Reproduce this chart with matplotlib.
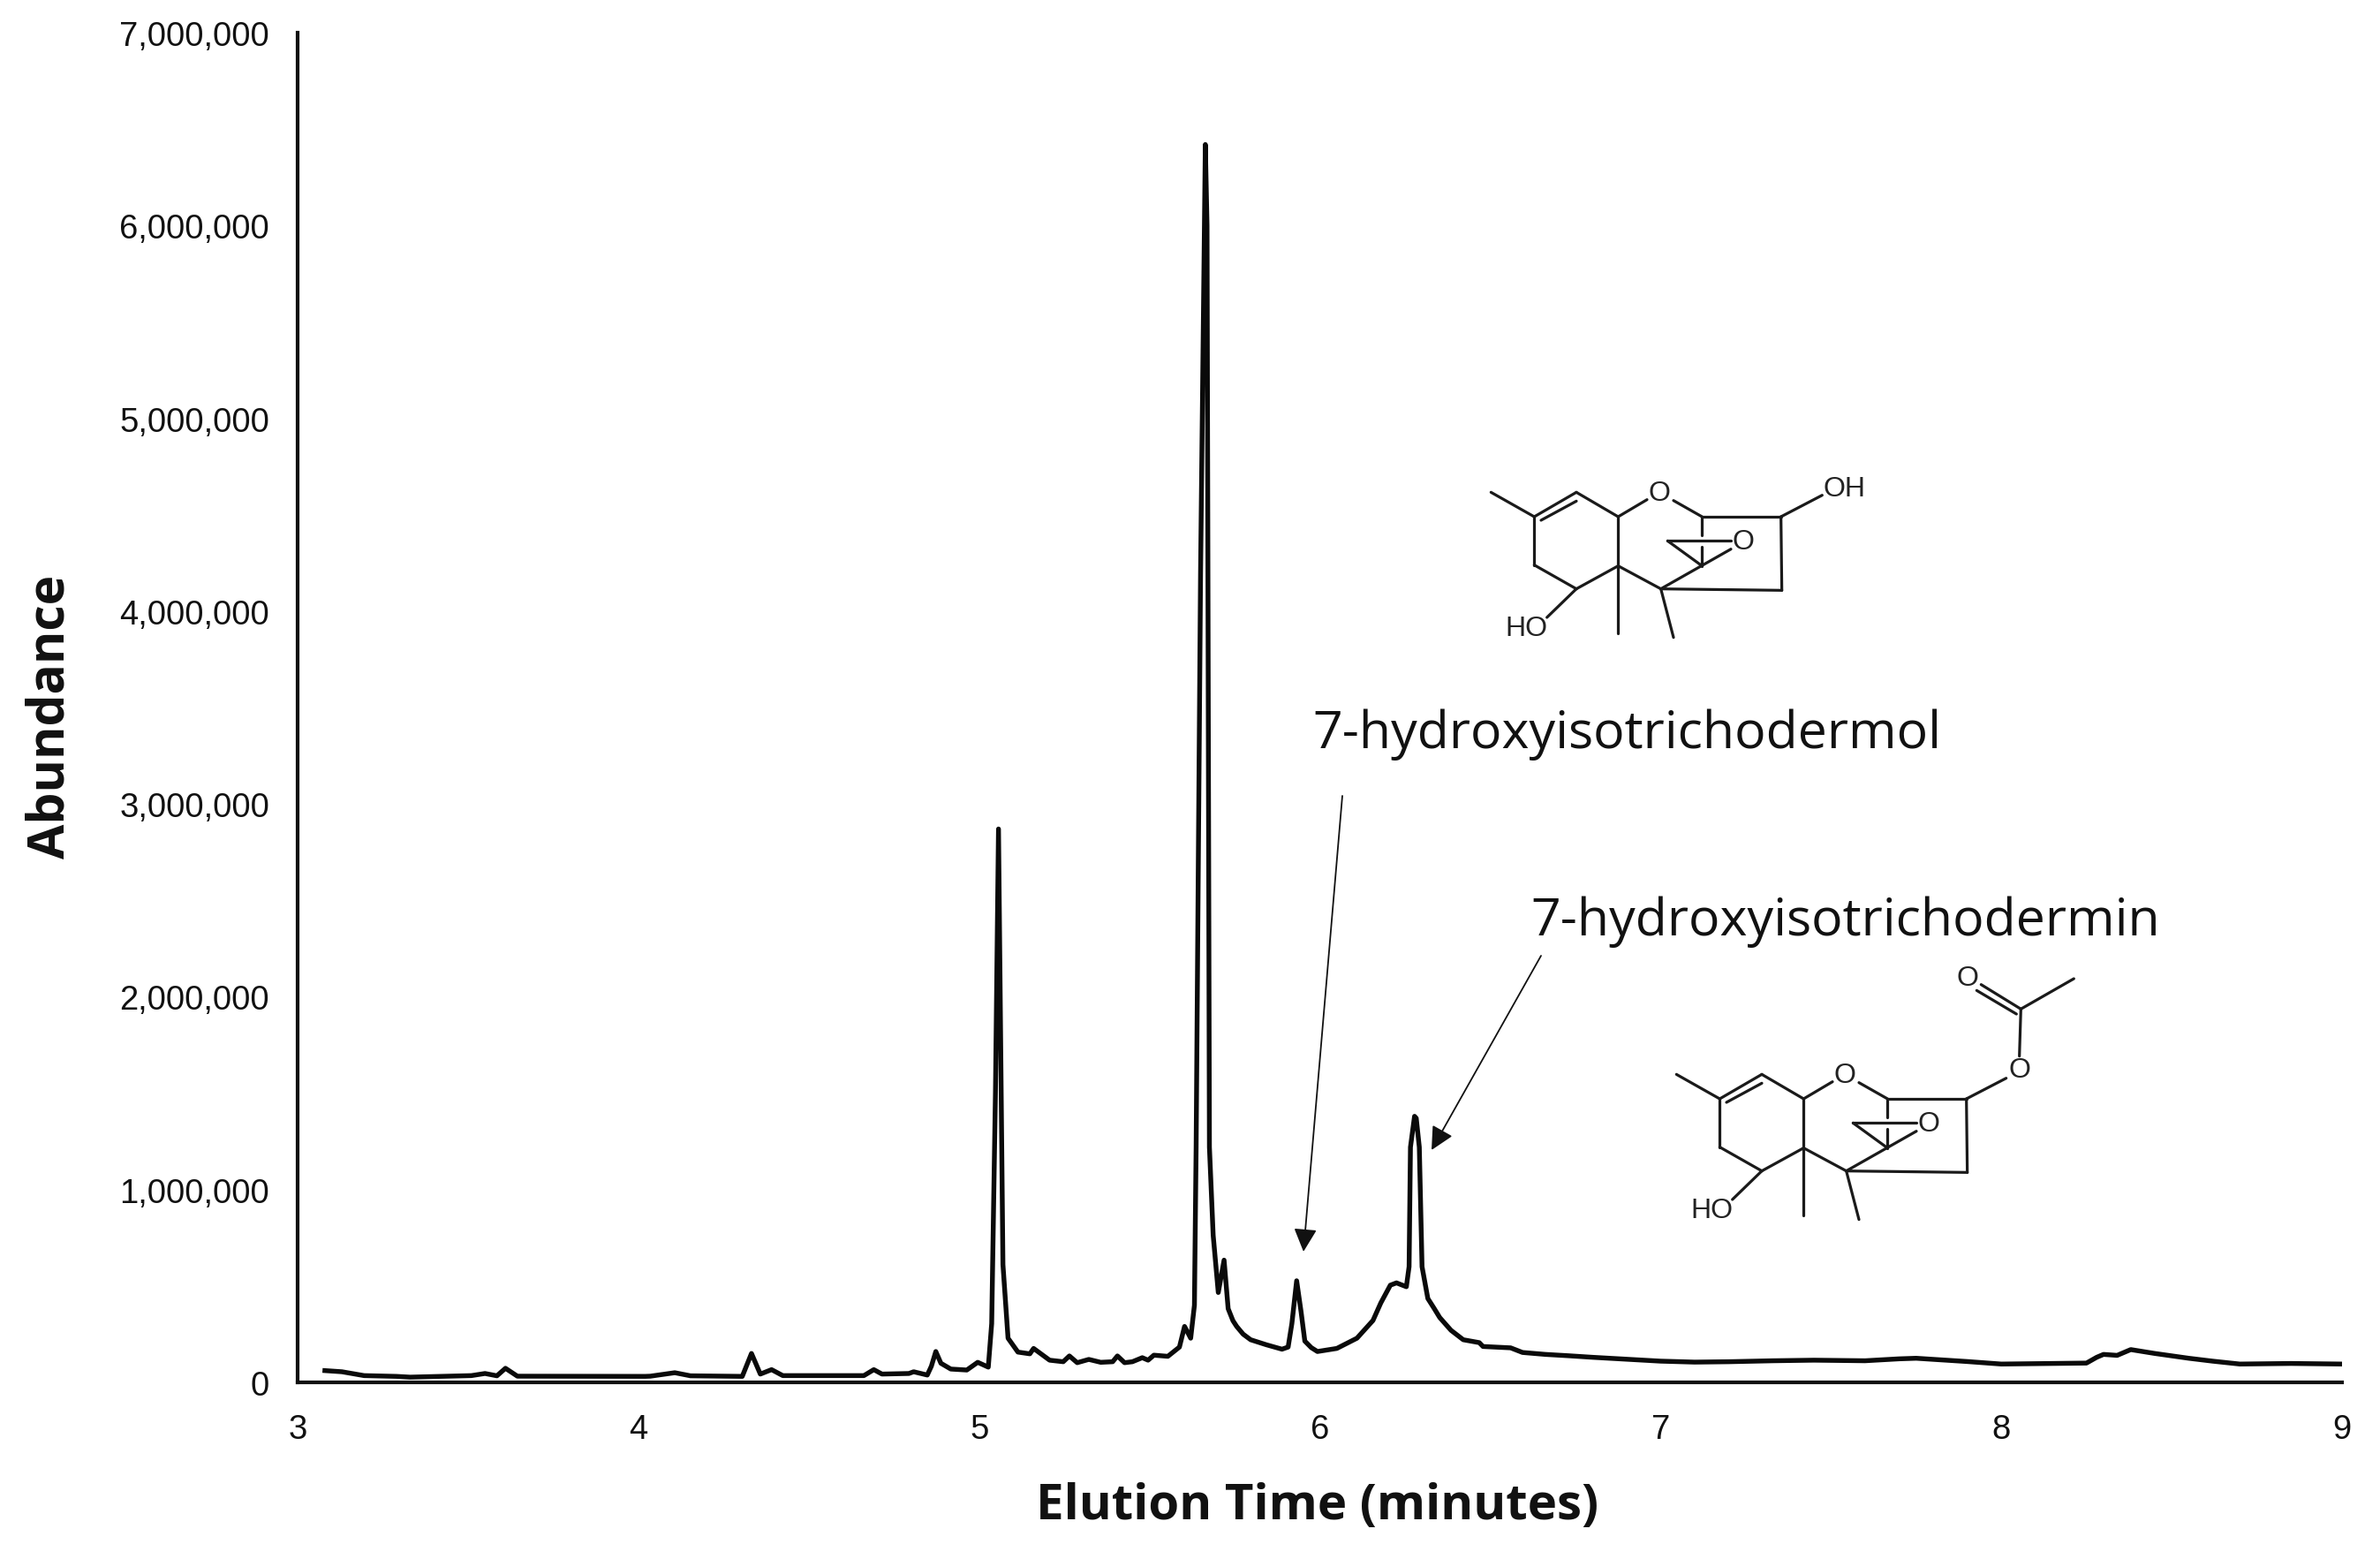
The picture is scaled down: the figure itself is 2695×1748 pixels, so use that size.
import matplotlib
matplotlib.use("Agg")
import matplotlib.pyplot as plt
from matplotlib.ticker import FuncFormatter

W, H = 2695, 1749

elution_time = [
    3.08, 3.13, 3.195, 3.29, 3.33, 3.51, 3.55, 3.585, 3.61, 3.645, 3.90, 4.02, 4.035, 4.107, 4.153,
    4.305, 4.332, 4.358, 4.391, 4.424, 4.662, 4.691, 4.715, 4.794, 4.808, 4.848, 4.860, 4.873, 4.888,
    4.917, 4.964, 4.996, 5.027, 5.037, 5.048, 5.057, 5.065, 5.070, 5.085, 5.114, 5.149, 5.160, 5.207,
    5.247, 5.265, 5.288, 5.322, 5.357, 5.392, 5.406, 5.427, 5.450, 5.479, 5.496, 5.513, 5.554, 5.588,
    5.603, 5.621, 5.632, 5.637, 5.650, 5.664, 5.669, 5.676, 5.687, 5.702, 5.719, 5.731, 5.745, 5.756,
    5.775, 5.797, 5.843, 5.889, 5.907, 5.918, 5.932, 5.945, 5.956, 5.975, 5.993, 6.05, 6.109, 6.156,
    6.179, 6.207, 6.225, 6.254, 6.262, 6.266, 6.278, 6.283, 6.292, 6.300, 6.317, 6.335, 6.352, 6.385,
    6.421, 6.468, 6.479, 6.560, 6.595, 6.662, 6.73, 6.80, 6.90, 7.00, 7.10, 7.20, 7.33, 7.45, 7.60,
    7.70, 7.75, 7.90, 8.00, 8.25, 8.28, 8.30, 8.34, 8.38, 8.45, 8.55, 8.62, 8.70, 8.85, 9.00,
]
abundance = [
    61, 55, 35, 31, 27, 35, 46, 34, 73, 32, 31, 31, 32, 50, 34,
    31, 150, 43, 66, 35, 35, 66, 43, 46, 55, 38, 84, 160, 99,
    69, 64, 104, 79, 305, 1500, 2870, 1500, 611, 229, 157, 148, 176, 115,
    107, 137, 102, 119, 104, 107, 137, 102, 107, 128, 115, 141, 135, 183,
    290, 229, 400, 1220, 4200, 6420, 6000, 1220, 763, 466, 634, 382, 320, 290,
    250, 221, 195, 172, 183, 305, 527, 366, 214, 180, 160, 176, 229, 321,
    412, 504, 516, 496, 600, 1220, 1380, 1370, 1220, 600, 435, 385, 336, 270,
    221, 206, 186, 179, 155, 145, 138, 130, 120, 110, 105, 107, 112, 115, 112,
    122, 125, 108, 95, 100, 130, 145, 140, 170, 150, 125, 110, 95, 98, 95,
]
y_ticks = [0, 1000000, 2000000, 3000000, 4000000, 5000000, 6000000, 7000000]
x_ticks = [3, 4, 5, 6, 7, 8, 9]

x_label = "Elution Time (minutes)"
y_label = "Abundance"
compound_a = "7-hydroxyisotrichodermol"
compound_b = "7-hydroxyisotrichodermin"

fig = plt.figure(figsize=(W / 100, H / 100), dpi=100)
L, R, T, B = 337, 2652, 38, 1566
ax = fig.add_axes([L / W, 1 - B / H, (R - L) / W, (B - T) / H])
ax.plot(elution_time, [v * 1000 for v in abundance], color="#0a0a0a", lw=3.9, solid_joinstyle="round")
ax.set_xlim(3, 9)
ax.set_ylim(0, 7000000)
ax.set_xticks(x_ticks)
ax.set_yticks(y_ticks)
ax.yaxis.set_major_formatter(FuncFormatter(lambda v, _: f"{int(v):,}"))
ax.tick_params(length=0, labelsize=27.5, labelcolor="#111111")
ax.tick_params(axis="y", pad=23)
ax.tick_params(axis="x", pad=25)
for lab in ax.get_xticklabels() + ax.get_yticklabels():
    lab.set_family("Liberation Sans")
for s in ("top", "right"):
    ax.spines[s].set_visible(False)
for s in ("left", "bottom"):
    ax.spines[s].set_linewidth(3.0)
    ax.spines[s].set_color("#111111")

ov = fig.add_axes([0, 0, 1, 1], facecolor="none")
ov.set_xlim(0, W)
ov.set_ylim(H, 0)
ov.axis("off")

ov.text(1492, 1706, x_label, family="Open Sans", weight="bold", fontsize=40.6, ha="center", va="center", color="#111111")
ov.text(58, 811, y_label, family="Open Sans", weight="bold", fontsize=41, rotation=90, ha="center", va="center", color="#111111")
ov.text(1486, 832, compound_a, family="Open Sans", fontsize=42.6, ha="left", va="center", color="#111111")
ov.text(1733, 1044, compound_b, family="Open Sans", fontsize=42.6, ha="left", va="center", color="#111111")

for start, end in (((1520, 902), (1476, 1418)), ((1745, 1083), (1621, 1303))):
    ov.annotate("", xy=end, xytext=start, xycoords="data", textcoords="data",
                arrowprops=dict(arrowstyle="-|>,head_length=1.0,head_width=0.5", lw=1.3, color="#111111",
                                mutation_scale=16, shrinkA=0, shrinkB=0))

core_bonds = [
    ((115, 175), (262, 258)), ((262, 258), (405, 175)), ((285, 270), (405, 205)), ((405, 175), (547, 258)),
    ((547, 258), (645, 200)), ((735, 203), (832, 258)), ((832, 258), (1100, 258)), ((1100, 258), (1103, 508)),
    ((1103, 508), (692, 503)), ((692, 503), (547, 425)), ((547, 258), (547, 655)), ((547, 425), (405, 503)),
    ((405, 503), (262, 422)), ((262, 422), (262, 258)), ((405, 503), (305, 600)), ((692, 503), (735, 668)),
    ((692, 503), (930, 368)), ((832, 258), (832, 320)), ((832, 360), (832, 425)), ((715, 340), (930, 340)),
    ((715, 340), (832, 425)),
]
core_labels = [("O", 687, 175), ("O", 972, 340), ("HO", 235, 632)]


def draw(bonds, labels, ox, oy):
    for a, b in bonds:
        ov.plot([ox + a[0] / 3, ox + b[0] / 3], [oy + a[1] / 3, oy + b[1] / 3], color="#1a1a1a", lw=2.3,
                solid_capstyle="round")
    for s, x, y in labels:
        ov.text(ox + x / 3, oy + y / 3 + 1, s, family="Liberation Sans", fontsize=23, ha="center", va="center",
                color="#222222")


draw(core_bonds + [((1100, 258), (1240, 185))], core_labels + [("OH", 1315, 160)], 1650, 500)
ester_bonds = [
    ((1100, 258), (1235, 188)), ((1280, 113), (1285, -47)), ((1285, -47), (1150, -130)), ((1270, -30), (1135, -110)),
    ((1285, -47), (1465, -150)),
]
draw(core_bonds + ester_bonds, core_labels + [("O", 1280, 155), ("O", 1105, -155)], 1860, 1159)

fig.savefig("out.png", dpi=100)
